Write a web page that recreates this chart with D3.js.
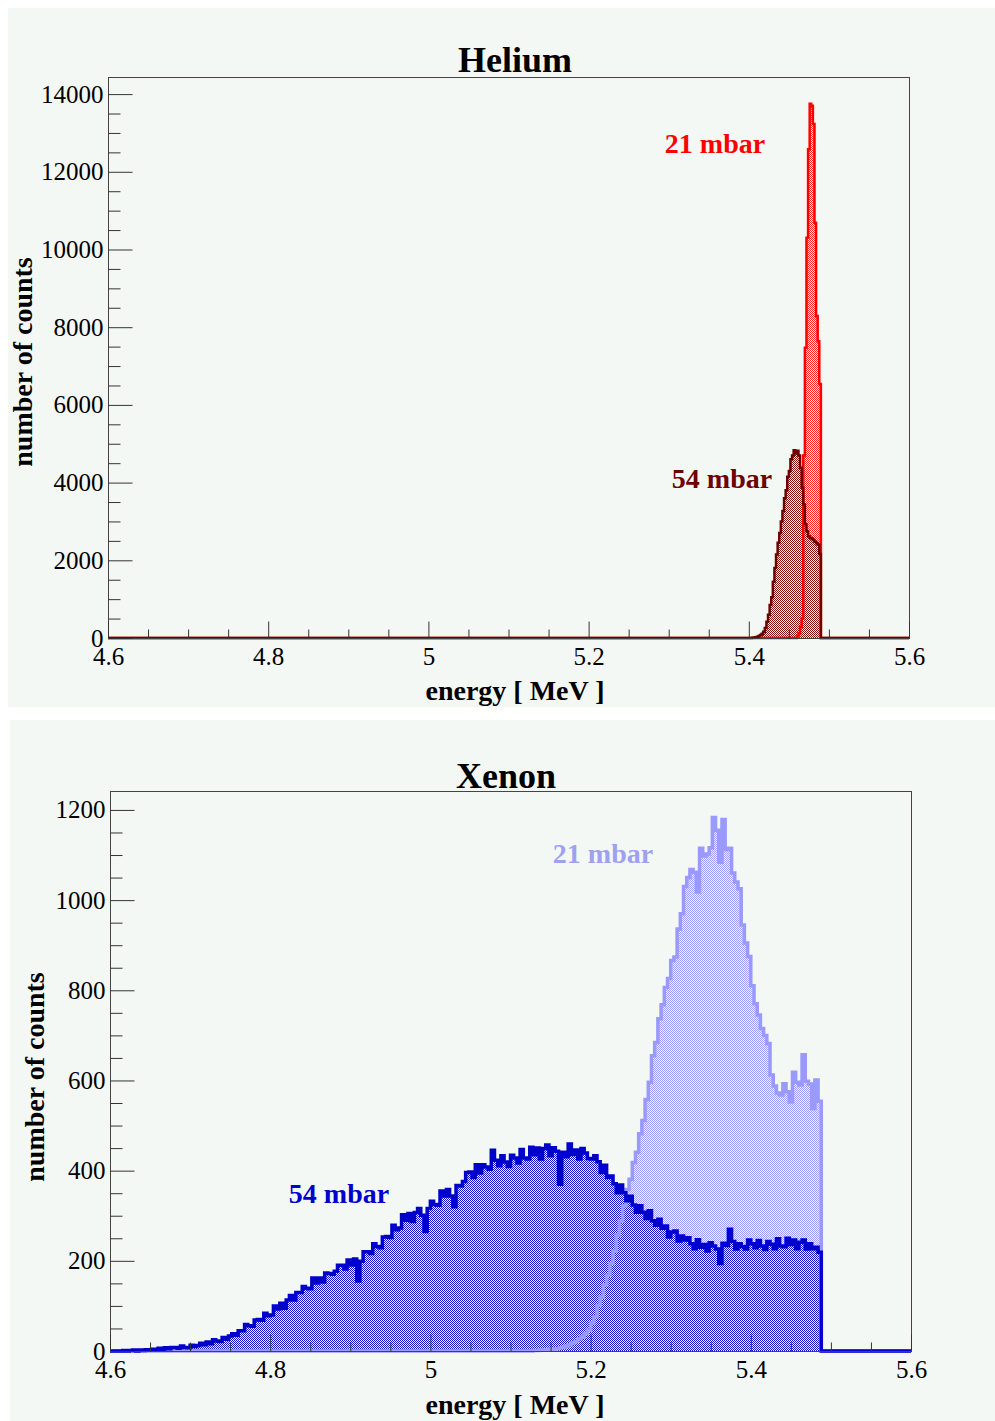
<!DOCTYPE html>
<html>
<head>
<meta charset="utf-8">
<script src="https://cdn.jsdelivr.net/npm/d3@7"></script>
<style>
  html, body { margin: 0; padding: 0; background: #ffffff; }
  svg { display: block; font-family: "Liberation Serif", "Times New Roman", serif; }
</style>
</head>
<body>
<svg id="chart" width="995" height="1421"></svg>
<script>
// ---- axis ticks (energy in MeV, number of counts) ----
const energyTicks = [4.6, 4.8, 5.0, 5.2, 5.4, 5.6];
const energyRange = [4.6, 5.6];
const energyMinorStep = 0.05;
const heliumCountTicks = [0, 2000, 4000, 6000, 8000, 10000, 12000, 14000];
const heliumMinorStep = 500;
const xenonCountTicks = [0, 200, 400, 600, 800, 1000, 1200];
const xenonMinorStep = 50;

// ---- Helium spectra (bin width 0.002 MeV) ----
const heliumBinWidth = 0.002;
const helium21Start = 5.460;
const helium21Counts = [40, 120, 280, 500, 4700, 7470, 10300, 12580, 13750, 13700,
  13230, 10690, 8290, 7640, 6540];
const helium54Start = 5.404;
const helium54Counts = [5, 10, 20, 30, 50, 80, 110, 160, 260, 420,
  600, 850, 1050, 1450, 1800, 2150, 2450, 2700, 3000, 3270,
  3600, 3800, 4150, 4300, 4600, 4700, 4830, 4750, 4820, 4700,
  4380, 3870, 3440, 2930, 2750, 2620, 2580, 2560, 2520, 2480,
  2440, 2400, 2160];

// ---- Xenon spectra (bin width 0.004 MeV) ----
const xenonBinWidth = 0.004;
const xenon54Start = 4.600;
const xenon54Counts = [
  0, 0, 0, 0, 1, 0, 1, 2, 0, 2,
  1, 3, 2, 4, 3, 6, 4, 7, 5, 8,
  8, 6, 11, 8, 7, 13, 10, 12, 17, 14,
  20, 16, 25, 22, 21, 30, 26, 33, 38, 35,
  45, 45, 59, 56, 55, 69, 70, 68, 84, 78,
  80, 100, 93, 106, 95, 113, 123, 113, 130, 130,
  143, 139, 138, 162, 151, 162, 153, 173, 172, 170,
  177, 190, 190, 182, 202, 191, 204, 155, 199, 220,
  220, 216, 238, 232, 229, 253, 254, 252, 279, 269,
  273, 302, 290, 305, 287, 307, 316, 301, 265, 316,
  332, 325, 323, 355, 344, 358, 344, 320, 367, 366,
  376, 396, 397, 385, 413, 395, 413, 408, 403, 445,
  423, 411, 433, 419, 409, 434, 428, 417, 447, 428,
  426, 452, 435, 450, 426, 449, 457, 433, 451, 443,
  370, 441, 431, 459, 436, 446, 426, 449, 439, 427,
  426, 433, 420, 396, 412, 385, 388, 371, 351, 368,
  351, 333, 343, 324, 308, 322, 308, 294, 311, 289,
  279, 292, 272, 277, 253, 264, 266, 244, 255, 246,
  251, 238, 227, 247, 230, 236, 222, 240, 233, 226,
  194, 239, 234, 270, 243, 226, 238, 232, 226, 246,
  238, 229, 245, 233, 225, 243, 237, 227, 249, 233,
  231, 250, 236, 246, 227, 241, 246, 226, 238, 227,
  230, 219];
const xenon21Start = 5.120;
const xenon21Counts = [
  0, 0, 1, 1, 2, 2, 3, 4, 4, 5,
  7, 8, 11, 14, 18, 21, 27, 31, 39, 46,
  62, 76, 101, 120, 147, 168, 194, 222, 257, 288,
  322, 358, 381, 418, 441, 482, 511, 558, 596, 655,
  684, 737, 768, 806, 826, 866, 874, 936, 970, 1030,
  1050, 1068, 1062, 1018, 1115, 1098, 1102, 1116, 1183, 1155,
  1084, 1179, 1112, 1115, 1060, 1040, 1025, 945, 905, 875,
  810, 770, 745, 715, 700, 682, 612, 588, 572, 568,
  593, 575, 552, 618, 596, 590, 657, 598, 592, 538,
  601, 554];

const svg = d3.select("#chart");
const defs = svg.append("defs");

// 50% dither fill, like a ROOT 3001 fill style
function ditherFill(id, color) {
  const p = defs.append("pattern")
    .attr("id", id).attr("width", 2).attr("height", 2)
    .attr("patternUnits", "userSpaceOnUse");
  p.append("rect").attr("x", 0).attr("y", 0).attr("width", 1).attr("height", 1).attr("fill", color);
  p.append("rect").attr("x", 1).attr("y", 1).attr("width", 1).attr("height", 1).attr("fill", color);
  return `url(#${id})`;
}

// step outline of a histogram, including the empty bins out to the axis range
function histPoints(start, width, counts) {
  const pts = [[energyRange[0], 0], [start, 0]];
  counts.forEach((c, i) => {
    pts.push([start + i * width, c]);
    pts.push([start + (i + 1) * width, c]);
  });
  pts.push([start + counts.length * width, 0]);
  pts.push([energyRange[1], 0]);
  return pts;
}

function drawPanel(cfg) {
  const g = svg.append("g");
  g.append("rect")
    .attr("x", cfg.bg[0]).attr("y", cfg.bg[1])
    .attr("width", cfg.bg[2]).attr("height", cfg.bg[3])
    .attr("fill", "#f4f8f5");

  const f = cfg.frame;
  const x = d3.scaleLinear().domain(energyRange).range([f.left, f.right]);
  const y = d3.scaleLinear().domain([0, cfg.yMax]).range([f.bottom, f.top]);
  const line = d3.line().x(d => x(d[0])).y(d => y(d[1]));

  // fills first, outlines on top
  cfg.series.forEach(s => {
    g.append("path")
      .attr("d", line(histPoints(s.start, s.width, s.counts)) + "Z")
      .attr("fill", ditherFill(s.id, s.fill))
      .attr("stroke", "none");
  });
  cfg.series.forEach(s => {
    g.append("path")
      .attr("d", line(histPoints(s.start, s.width, s.counts)))
      .attr("fill", "none")
      .attr("stroke", s.line)
      .attr("stroke-width", s.lineWidth)
      .attr("stroke-linejoin", "miter");
  });

  // frame
  g.append("rect")
    .attr("x", f.left + 0.5).attr("y", f.top + 0.5)
    .attr("width", f.right - f.left).attr("height", f.bottom - f.top)
    .attr("fill", "none").attr("stroke", "#444").attr("stroke-width", 1);

  const tickStyle = sel => {
    sel.attr("font-family", null).attr("font-size", null);
    sel.select(".domain").remove();
    sel.selectAll(".tick line").attr("stroke", "#333").attr("stroke-width", 1);
    sel.selectAll(".tick text").attr("fill", "#000").style("font-size", "25px");
  };

  // y axis: major + minor ticks pointing into the frame
  const yMinor = d3.range(0, cfg.yMax + 1e-9, cfg.yMinorStep)
    .filter(v => !cfg.yTicks.includes(v));
  g.append("g").attr("transform", `translate(${f.left + 0.5},0)`)
    .call(d3.axisLeft(y).tickValues(yMinor).tickSize(-12).tickFormat(""))
    .call(tickStyle);
  g.append("g").attr("transform", `translate(${f.left + 0.5},0)`)
    .call(d3.axisLeft(y).tickValues(cfg.yTicks).tickSize(-24).tickPadding(5)
      .tickFormat(d3.format("d")))
    .call(tickStyle);

  // x axis
  const xMinor = d3.range(energyRange[0], energyRange[1] + 1e-9, energyMinorStep)
    .filter(v => !energyTicks.some(t => Math.abs(t - v) < 1e-6));
  g.append("g").attr("transform", `translate(0,${f.bottom + 0.5})`)
    .call(d3.axisBottom(x).tickValues(xMinor).tickSize(-9).tickFormat(""))
    .call(tickStyle);
  g.append("g").attr("transform", `translate(0,${f.bottom + 0.5})`)
    .call(d3.axisBottom(x).tickValues(energyTicks).tickSize(-17).tickPadding(9)
      .tickFormat(d => String(+d.toFixed(1))))
    .call(tickStyle);

  // titles
  g.append("text").attr("x", cfg.titleX).attr("y", cfg.titleY)
    .attr("text-anchor", "middle").attr("font-weight", "bold")
    .style("font-size", "36px").text(cfg.title);
  g.append("text").attr("x", 515).attr("y", cfg.xLabelY)
    .attr("text-anchor", "middle").attr("font-weight", "bold")
    .style("font-size", "28px").text("energy [ MeV ]");
  g.append("text")
    .attr("transform", `translate(${cfg.yLabelX},${cfg.yLabelY}) rotate(-90)`)
    .attr("text-anchor", "middle").attr("font-weight", "bold")
    .style("font-size", "28px").text("number of counts");

  cfg.labels.forEach(l => {
    g.append("text").attr("x", l.x).attr("y", l.y)
      .attr("text-anchor", "middle").attr("font-weight", "bold")
      .attr("fill", l.color).style("font-size", "28px").text(l.text);
  });
}

drawPanel({
  bg: [8, 8, 987, 699],
  frame: { left: 108, top: 77, right: 909, bottom: 638 },
  yMax: 14440,
  yTicks: heliumCountTicks,
  yMinorStep: heliumMinorStep,
  title: "Helium", titleX: 515, titleY: 72,
  xLabelY: 700, yLabelX: 32, yLabelY: 362,
  series: [
    { id: "he21", start: helium21Start, width: heliumBinWidth, counts: helium21Counts,
      fill: "#ff2020", line: "#ff0000", lineWidth: 2.5 },
    { id: "he54", start: helium54Start, width: heliumBinWidth, counts: helium54Counts,
      fill: "#8a1010", line: "#6e0000", lineWidth: 2.5 }
  ],
  labels: [
    { text: "21 mbar", x: 715, y: 153, color: "#ff0000" },
    { text: "54 mbar", x: 722, y: 488, color: "#6e0000" }
  ]
});

drawPanel({
  bg: [10, 720, 985, 701],
  frame: { left: 110, top: 791, right: 911, bottom: 1351 },
  yMax: 1242,
  yTicks: xenonCountTicks,
  yMinorStep: xenonMinorStep,
  title: "Xenon", titleX: 506, titleY: 788,
  xLabelY: 1414, yLabelX: 44, yLabelY: 1077,
  series: [
    { id: "xe21", start: xenon21Start, width: xenonBinWidth, counts: xenon21Counts,
      fill: "#9999ff", line: "#9999ff", lineWidth: 3.5 },
    { id: "xe54", start: xenon54Start, width: xenonBinWidth, counts: xenon54Counts,
      fill: "#1010cc", line: "#0000cc", lineWidth: 3.5 }
  ],
  labels: [
    { text: "21 mbar", x: 603, y: 863, color: "#a0a0f2" },
    { text: "54 mbar", x: 339, y: 1203, color: "#0000cc" }
  ]
});
</script>
</body>
</html>
